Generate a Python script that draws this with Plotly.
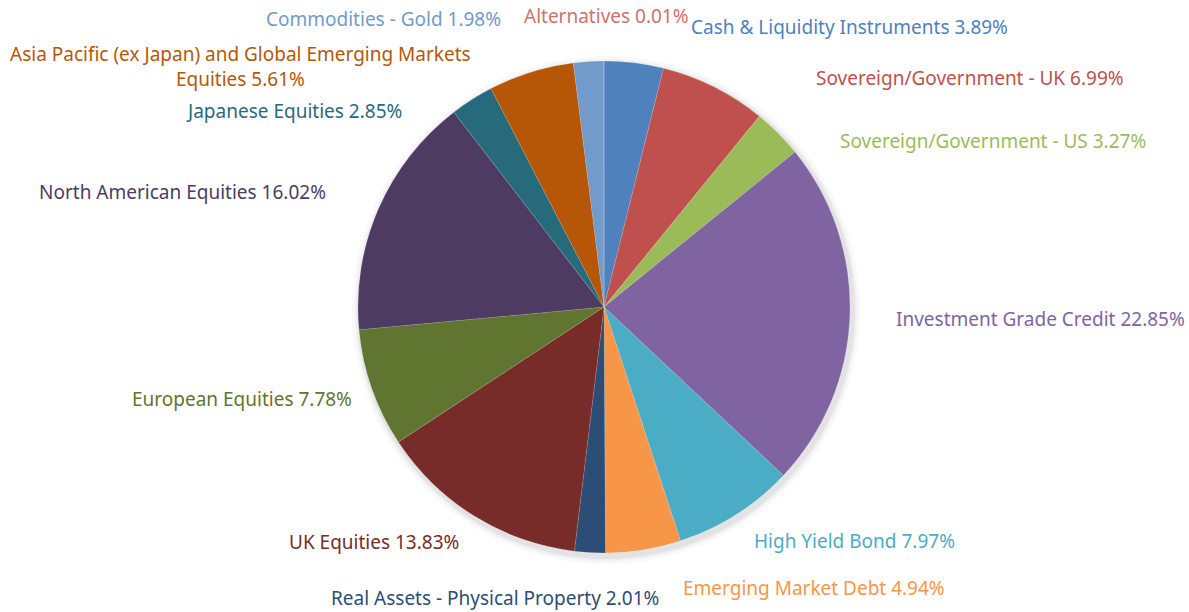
import plotly.graph_objects as go

W, H = 1189, 612

categories = [
    "Cash & Liquidity Instruments", "Sovereign/Government - UK", "Sovereign/Government - US",
    "Investment Grade Credit", "High Yield Bond", "Emerging Market Debt",
    "Real Assets - Physical Property", "UK Equities", "European Equities",
    "North American Equities", "Japanese Equities",
    "Asia Pacific (ex Japan) and Global Emerging Markets<br>Equities",
    "Commodities - Gold", "Alternatives",
]
weights = [3.89, 6.99, 3.27, 22.85, 7.97, 4.94, 2.01, 13.83, 7.78, 16.02, 2.85, 5.61, 1.98, 0.01]
colors = ["#4F81BD", "#C0504D", "#9BBB59", "#8064A2", "#4BACC6", "#F79646", "#2C4D75",
          "#772C2A", "#5F7530", "#4D3B62", "#276A7C", "#B65708", "#729ACA", "#D0706E"]

# label centre positions in pixels (x, y from top)
label_pos = [(849, 27), (970, 78), (993, 141), (1040, 319), (854, 541), (814, 588),
             (495, 598), (374, 542), (242, 399), (182, 192), (294, 111), (241, 66),
             (383, 19), (606, 16)]

cx, cy, r = 604, 307, 246

fig = go.Figure()

# soft shadow behind the pie
for k, a in [(8, 0.025), (5, 0.035), (3, 0.05)]:
    rr = r + k
    fig.add_trace(go.Pie(
        values=[1], marker=dict(colors=[f"rgba(0,0,0,{a})"]), textinfo="none",
        hoverinfo="skip", showlegend=False, sort=False,
        domain=dict(x=[(cx + 2 - rr) / W, (cx + 2 + rr) / W],
                    y=[(H - cy - 3 - rr) / H, (H - cy - 3 + rr) / H]),
    ))

fig.add_trace(go.Pie(
    labels=categories, values=weights, sort=False, direction="clockwise", rotation=0,
    marker=dict(colors=colors, line=dict(color="rgba(255,255,255,0.25)", width=0.5)),
    textinfo="none", showlegend=False,
    domain=dict(x=[(cx - r) / W, (cx + r) / W], y=[(H - cy - r) / H, (H - cy + r) / H]),
))

for name, v, c, (px, py) in zip(categories, weights, colors, label_pos):
    fig.add_annotation(
        x=px / W, y=1 - py / H, xref="paper", yref="paper",
        text=f"{name} {v:.2f}%", showarrow=False, xanchor="center", yanchor="middle",
        align="center", font=dict(color=c, size=19),
    )

fig.update_layout(
    width=W, height=H, margin=dict(l=0, r=0, t=0, b=0),
    paper_bgcolor="white", plot_bgcolor="white",
    font=dict(family="Noto Sans, Open Sans, sans-serif"),
)

fig.write_html("out.html", config={"displayModeBar": False},
               post_script="document.body.style.margin='0';")
